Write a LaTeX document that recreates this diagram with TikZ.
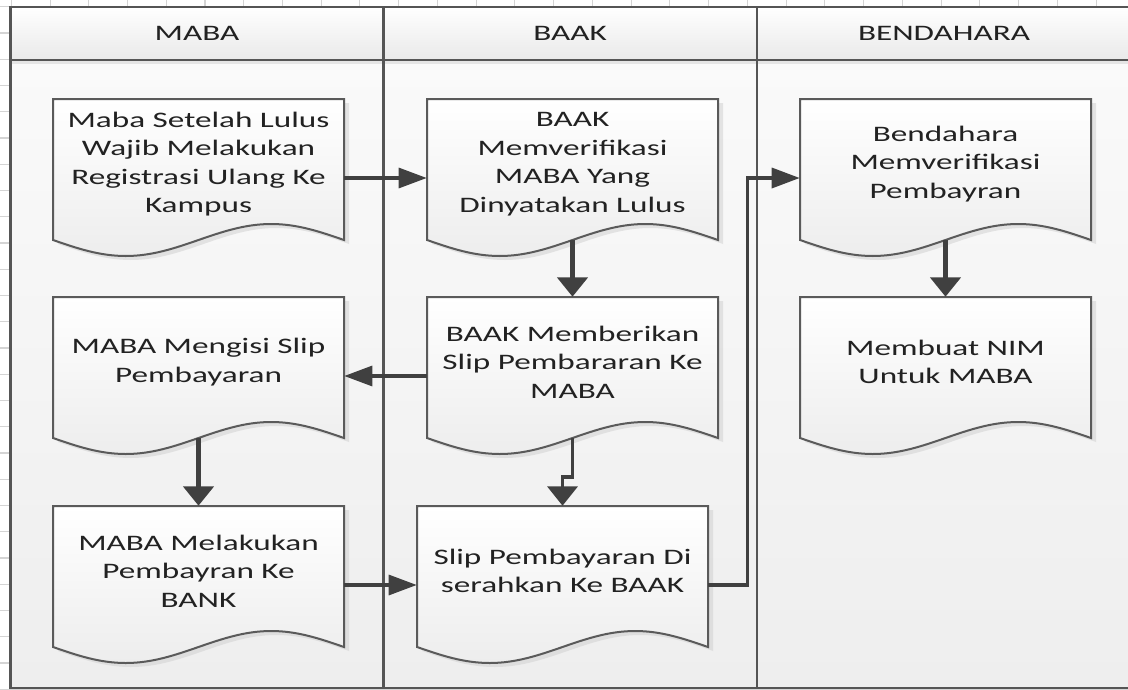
\documentclass[tikz,border=0pt]{standalone}
\usepackage{fontspec}
\setmainfont{Carlito}[FakeStretch=1.5]
\usetikzlibrary{arrows.meta}
\definecolor{gridc}{HTML}{D4D4D4}
\definecolor{framec}{HTML}{555555}
\definecolor{hdrbot}{HTML}{E9E9E9}
\definecolor{bodytop}{HTML}{FAFAFA}
\definecolor{bodybot}{HTML}{EEEEEE}
\definecolor{linec}{HTML}{5A5A5A}
\definecolor{docbot}{HTML}{EDEDED}
\definecolor{arrowc}{HTML}{404040}
\definecolor{textc}{HTML}{222222}
\tikzset{
  frame/.style={draw=framec, line width=1.6pt},
  hdr/.style={font=\fontsize{16.6}{21.4}\selectfont, text=textc, inner sep=0pt},
  docline/.style={draw=linec, line width=1.5pt, line join=miter, top color=white, bottom color=docbot},
  docshadow/.style={fill=black!18, opacity=0.55},
  docarea/.style={minimum width=218.25pt, minimum height=118.5pt, inner sep=0pt, draw=none},
  doctext/.style={font=\fontsize{16.6}{21.4}\selectfont, text=textc, align=center, inner sep=0pt},
  harrow/.style={draw=arrowc, line width=2.3pt, -{Triangle[length=21pt, width=15pt]}},
  varrow/.style={draw=arrowc, line width=3.2pt, -{Triangle[length=14.5pt, width=22.5pt]}},
  mixarrow/.style={draw=arrowc, line width=2.6pt}
}
\newcommand\docpath[2]{(#1,#2) -- ++(291,0) -- ++(0,141) sin ++(-72.75,-16) cos ++(-72.75,16) sin ++(-72.75,16) cos ++(-72.75,-16) -- cycle}
\newcommand\docbox[4]{%
  \fill[docshadow] \docpath{#2+5}{#3+4};
  \path[docline] \docpath{#2}{#3};
  \node[docarea] (#1) at (#2+145.5,#3+79) {};
  \node[doctext] (#1-t) at (#2+145.5,#3+65) {#4};
  \coordinate (#1-b) at (#2+145.5,#3+141);
}
\begin{document}
\begin{tikzpicture}[x=0.75pt, y=-0.75pt]
\useasboundingbox (0,0) rectangle (1128,689);
\clip (0,0) rectangle (1128,689);
\fill[white] (0,0) rectangle (1128,689);
% background grid
\foreach \i in {0,...,29} {\draw[gridc, line width=0.8pt] (11.3+38.74*\i,0) -- (11.3+38.74*\i,689);}
\foreach \j in {0,...,26} {\draw[gridc, line width=0.8pt] (0,6.75+26.25*\j) -- (1128,6.75+26.25*\j);}
% lanes
\shade[top color=white, bottom color=hdrbot] (10.5,7) rectangle (1131,60);
\shade[top color=bodytop, bottom color=bodybot] (10.5,60) rectangle (1131,688);
\fill[black!10] (10.5,61) rectangle (1131,64);
\draw[frame] (10.5,7) rectangle (1131,688);
\draw[frame] (10.5,60) -- (1131,60);
\draw[frame] (383.5,7) -- (383.5,688);
\draw[frame] (757,7) -- (757,688);
\node[hdr] (h1) at (197,33) {MABA};
\node[hdr] (h2) at (570,33) {BAAK};
\node[hdr] (h3) at (944,33) {BENDAHARA};
% documents
\docbox{a1}{53}{99}{Maba Setelah Lulus\\Wajib Melakukan\\Registrasi Ulang Ke\\Kampus}
\docbox{b1}{427}{99}{BAAK\\Memverifikasi\\MABA Yang\\Dinyatakan Lulus}
\docbox{c1}{800}{99}{Bendahara\\Memverifikasi\\Pembayran}
\docbox{a2}{53}{297}{MABA Mengisi Slip\\Pembayaran}
\docbox{b2}{427}{297}{BAAK Memberikan\\Slip Pembararan Ke\\MABA}
\docbox{c2}{800}{297}{Membuat NIM\\Untuk MABA}
\docbox{a3}{53}{506}{MABA Melakukan\\Pembayran Ke\\BANK}
\docbox{b3}{417}{506}{Slip Pembayaran Di\\serahkan Ke BAAK}
% connectors
\draw[harrow] (a1.east) -- (b1.west);
\draw[varrow] (b1-b) -- (b2.north);
\draw[harrow] (b2.west) -- (a2.east);
\draw[varrow] (a2-b) -- (a3.north);
\draw[mixarrow, -{Triangle[length=14.5pt, width=22.5pt]}] (b2-b) -- ++(0,39) -| (b3.north);
\draw[harrow] (a3.east) -- (b3.west);
\draw[mixarrow, -{Triangle[length=21pt, width=15pt]}] (b3.east) -- ++(39,0) |- (c1.west);
\draw[varrow] (c1-b) -- (c2.north);
\end{tikzpicture}
\end{document}
